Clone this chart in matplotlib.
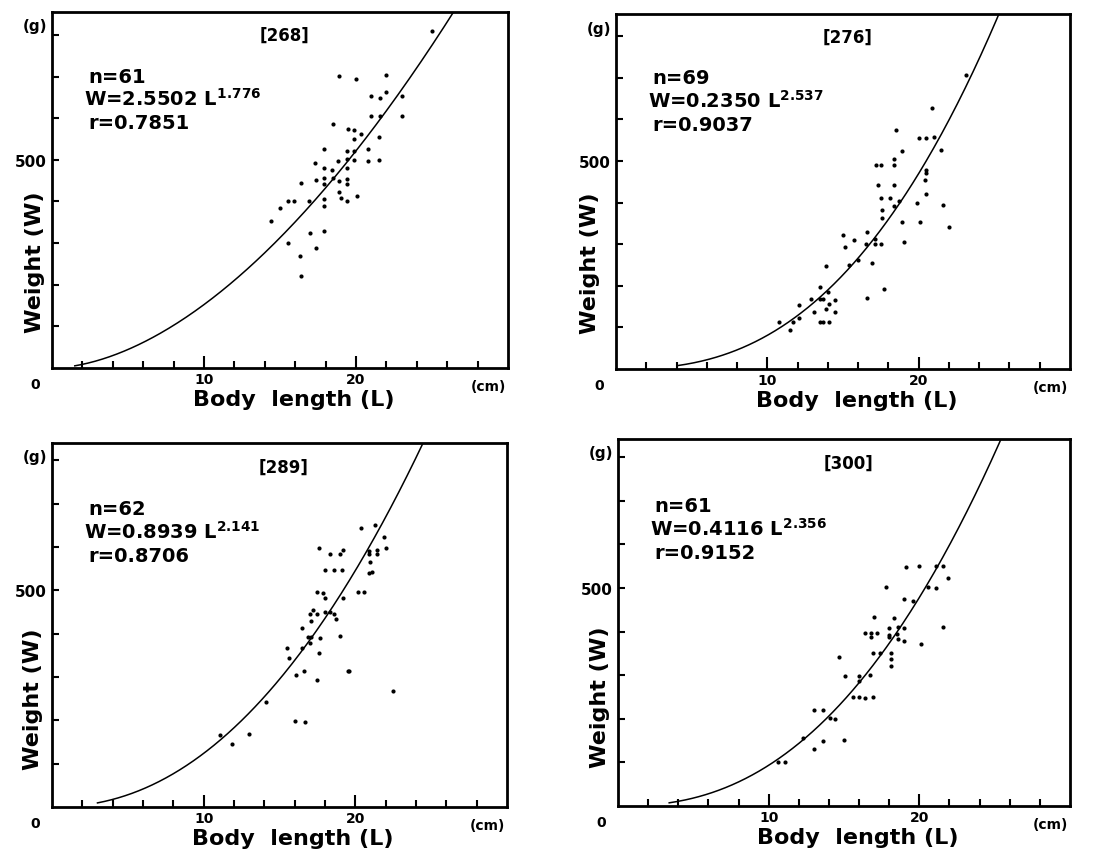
import matplotlib
matplotlib.use('Agg')
import matplotlib.pyplot as plt
import numpy as np

plt.rcParams['font.family'] = 'DejaVu Sans'
plt.rcParams['font.weight'] = 'bold'
plt.rcParams['mathtext.default'] = 'bf'

# station numbers and regression results W = a * L^b
stations = ['[268]', '[276]', '[289]', '[300]']
n_values = [61, 69, 62, 61]
coef_a = [2.5502, 0.2350, 0.8939, 0.4116]
coef_b = ['1.776', '2.537', '2.141', '2.356']
r_values = ['0.7851', '0.9037', '0.8706', '0.9152']
curve_start = [1.5, 4.1, 3.0, 3.4]  # smallest L of the drawn curve (cm)

# body length (cm) and weight (g)
L268 = [25.0, 18.9, 20.0, 22.0, 22.0, 21.0, 21.6, 23.0, 21.0, 21.6, 23.0, 18.5, 19.5, 19.9,
        20.3, 19.9, 21.5, 17.9, 19.4, 19.9, 20.8, 18.8, 19.4, 19.9, 20.8, 21.5, 17.3, 17.9,
        18.4, 19.4, 16.4, 17.4, 17.9, 17.9, 18.5, 18.9, 19.4, 19.4, 18.9, 19.0, 19.4, 20.1,
        15.5, 15.9, 16.9, 17.9, 17.9, 15.0, 14.4, 17.9, 17.0, 15.5, 17.4, 16.3, 16.4]
W268 = [809, 701, 694, 704, 664, 653, 648, 654, 604, 605, 606, 585, 573, 572,
        563, 550, 555, 525, 522, 522, 525, 497, 502, 500, 497, 500, 492, 481,
        476, 480, 445, 452, 457, 441, 457, 450, 454, 441, 422, 409, 402, 413,
        402, 402, 402, 406, 390, 384, 354, 329, 324, 301, 289, 270, 221]

L276 = [23.1, 20.9, 18.5, 20.0, 20.5, 21.0, 18.9, 21.5, 18.4, 18.4, 17.2, 17.5, 20.5, 20.5,
        20.4, 17.3, 18.4, 20.5, 17.5, 18.1, 18.7, 19.9, 18.4, 17.6, 21.6, 17.6, 18.9, 20.1,
        22.0, 16.6, 15.0, 15.7, 17.1, 19.0, 16.5, 17.1, 17.5, 15.1, 16.0, 15.4, 16.9, 13.9,
        13.5, 17.7, 14.0, 12.9, 13.5, 13.7, 14.5, 16.6, 14.1, 12.1, 13.9, 14.5, 13.1, 12.1,
        11.7, 10.8, 11.5, 13.5, 14.1, 13.7]
W276 = [706, 628, 574, 554, 554, 558, 524, 526, 504, 490, 490, 490, 478, 472,
        454, 442, 442, 420, 410, 410, 404, 398, 392, 382, 394, 364, 354, 354,
        342, 330, 322, 310, 312, 306, 300, 300, 300, 294, 262, 250, 254, 248,
        198, 192, 184, 168, 168, 168, 166, 170, 156, 154, 144, 138, 136, 122,
        112, 114, 94, 114, 114, 114]

L289 = [21.3, 20.4, 21.9, 17.6, 19.2, 20.9, 21.4, 22.0, 18.3, 19.0, 20.9, 21.4, 21.0, 18.0,
        18.6, 19.1, 20.9, 21.1, 17.5, 17.9, 18.0, 20.2, 20.6, 19.2, 17.2, 17.0, 17.5, 18.0,
        18.3, 18.6, 18.7, 17.1, 16.5, 16.9, 17.1, 17.7, 19.0, 15.5, 16.5, 17.0, 15.6, 17.6,
        16.1, 16.6, 17.5, 19.5, 19.6, 22.5, 14.1, 16.0, 16.7, 11.1, 13.0, 11.9]
W289 = [650, 643, 623, 597, 594, 590, 594, 597, 583, 583, 583, 584, 565, 547,
        547, 547, 541, 542, 495, 493, 483, 495, 495, 483, 454, 445, 445, 449,
        451, 446, 433, 429, 414, 393, 393, 391, 395, 368, 367, 378, 344, 355,
        305, 313, 294, 313, 314, 268, 243, 198, 196, 166, 169, 146]

L300 = [19.1, 20.0, 21.1, 21.6, 21.9, 20.6, 21.1, 17.8, 19.0, 19.6, 17.0, 18.3, 21.6, 16.4,
        16.8, 17.2, 16.8, 18.0, 18.6, 19.0, 18.0, 18.5, 18.6, 19.0, 20.1, 18.0, 14.7, 16.9,
        17.4, 18.1, 18.1, 18.1, 15.1, 16.0, 16.7, 16.0, 15.6, 16.0, 16.4, 16.9, 13.0, 13.6,
        14.1, 14.4, 12.3, 13.6, 13.0, 15.0, 11.1, 10.6]
W300 = [549, 550, 551, 551, 522, 502, 499, 502, 475, 471, 433, 431, 410, 398,
        398, 398, 387, 408, 410, 408, 392, 395, 383, 378, 372, 387, 343, 351,
        351, 351, 337, 321, 299, 299, 301, 286, 250, 250, 248, 250, 221, 221,
        202, 200, 156, 149, 131, 152, 101, 101]

lengths = [L268, L276, L289, L300]
weights = [W268, W276, W289, W300]

positions = [[0.0473, 0.5674, 0.4149, 0.4174],
             [0.5605, 0.5662, 0.4131, 0.4162],
             [0.0473, 0.0528, 0.4140, 0.4267],
             [0.5623, 0.0539, 0.4113, 0.4303]]
ylims = [855, 853, 840, 842]
ylabel_gap = [7, 16, 9, 8]  # pixels between y label and the axis

fig = plt.figure(figsize=(10.99, 8.53), dpi=100)

for i in range(4):
    ax = fig.add_axes(positions[i])
    w_px = positions[i][2] * 1099
    h_px = positions[i][3] * 853
    L = np.array(lengths[i])
    W = np.array(weights[i])
    ax.scatter(L, W, s=9, color='black', linewidths=0, zorder=3)

    Lc = np.linspace(curve_start[i], 30, 300)
    ax.plot(Lc, coef_a[i] * Lc ** float(coef_b[i]), color='black', linewidth=1.1)

    ax.set_xlim(0, 30)
    ax.set_ylim(0, ylims[i])
    for s in ax.spines.values():
        s.set_linewidth(2.0)

    ax.set_xticks([10, 20])
    ax.set_xticklabels(['10', '20'], fontsize=10, fontweight='bold')
    ax.set_xticks(np.arange(2, 30, 2), minor=True)
    ax.set_yticks([500])
    ax.set_yticklabels(['500'], fontsize=11, fontweight='bold')
    ax.set_yticks([100, 200, 300, 400, 600, 700, 800], minor=True)
    ax.tick_params(axis='x', which='major', direction='in', length=9, width=1.5, pad=3)
    ax.tick_params(axis='x', which='minor', direction='in', length=5, width=1.5)
    ax.tick_params(axis='y', which='both', direction='in', length=5, width=1.5, pad=4)

    # origin and unit labels
    ax.annotate('0', xy=(0, 0), xycoords='axes fraction', xytext=(-17, -16),
                textcoords='offset pixels', ha='center', va='center', fontsize=10)
    ax.annotate('(cm)', xy=(1, 0), xycoords='axes fraction', xytext=(-2, -18),
                textcoords='offset pixels', ha='right', va='center', fontsize=10)
    ax.annotate('(g)', xy=(0, 1), xycoords='axes fraction', xytext=(-5, -14),
                textcoords='offset pixels', ha='right', va='center', fontsize=11)

    ax.set_xlabel('Body  length (L)', fontsize=16, fontweight='bold', labelpad=0)
    ax.xaxis.set_label_coords(0.53, -21 / h_px)
    ax.set_ylabel('Weight (W)', fontsize=16, fontweight='bold')
    ax.yaxis.set_label_coords(-ylabel_gap[i] / w_px, 0.3)

    ax.text(0.51, 0.935, stations[i], transform=ax.transAxes, ha='center', va='center',
            fontsize=12)
    ax.text(0.08, 0.82, 'n=' + str(n_values[i]), transform=ax.transAxes,
            ha='left', va='center', fontsize=14)
    ax.text(0.07, 0.758, 'W=' + '%.4f' % coef_a[i] + ' L$^{' + coef_b[i] + '}$',
            transform=ax.transAxes, ha='left', va='center', fontsize=14)
    ax.text(0.08, 0.69, 'r=' + r_values[i], transform=ax.transAxes,
            ha='left', va='center', fontsize=14)

fig.savefig('out.png', dpi=100)
